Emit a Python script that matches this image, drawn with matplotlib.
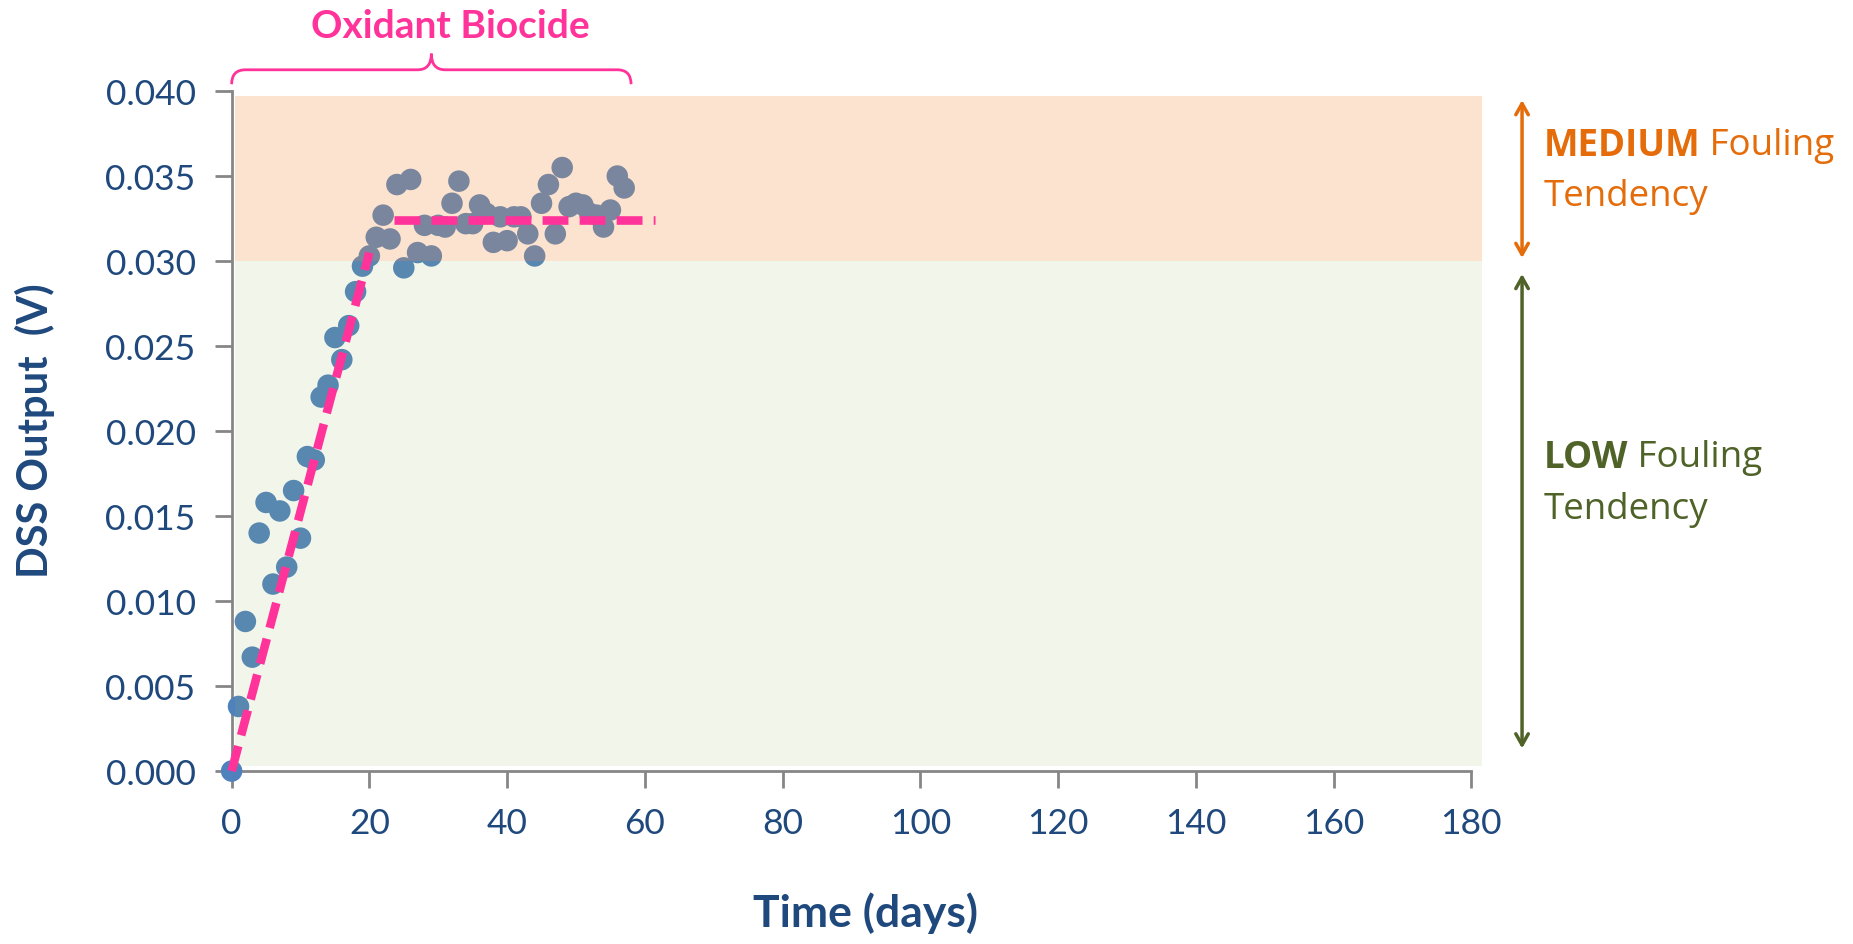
import matplotlib
matplotlib.use('Agg')
from matplotlib import pyplot as plt
from matplotlib.path import Path
from matplotlib.patches import PathPatch

# daily DSS readings during oxidant biocide dosing
days = list(range(0, 58))
dss_output = [0.0000, 0.0038, 0.0088, 0.0067, 0.0140, 0.0158, 0.0110, 0.0153, 0.0120, 0.0165,
              0.0137, 0.0185, 0.0183, 0.0220, 0.0227, 0.0255, 0.0242, 0.0262, 0.0282, 0.0297,
              0.0303, 0.0314, 0.0327, 0.0313, 0.0345, 0.0296, 0.0348, 0.0305, 0.0321, 0.0303,
              0.0321, 0.0320, 0.0334, 0.0347, 0.0322, 0.0322, 0.0333, 0.0328, 0.0311, 0.0326,
              0.0312, 0.0326, 0.0326, 0.0316, 0.0303, 0.0334, 0.0345, 0.0316, 0.0355, 0.0332,
              0.0334, 0.0333, 0.0328, 0.0327, 0.0320, 0.0330, 0.0350, 0.0343]

# trend lines (ramp + plateau)
ramp_x = [0, 20]
ramp_y = [0.0, 0.0305]
plateau_x = [23.6, 61.5]
plateau_y = [0.0324, 0.0324]

# fouling tendency zones
zone_x = [0.5, 181.6]
low_zone = [0.0003, 0.030]
medium_zone = [0.030, 0.0397]

# biocide dosing period
biocide_period = [0, 58]

x_ticks = list(range(0, 181, 20))
y_ticks = [0.000, 0.005, 0.010, 0.015, 0.020, 0.025, 0.030, 0.035, 0.040]

navy = '#1F497D'
pink = '#FF3399'
orange = '#E46C0A'
green = '#4F6228'
font = 'Lato'


def draw_brace(ax, x0, x1, y0, color):
    xm = (x0 + x1) / 2
    y_bar = y0 + 0.00085
    y_tip = y0 + 0.0018
    r = 2.0
    verts = [(x0, y0), (x0, y_bar), (x0 + r, y_bar),
             (xm - r, y_bar), (xm, y_bar), (xm, y_tip),
             (xm, y_bar), (xm + r, y_bar),
             (x1 - r, y_bar), (x1, y_bar), (x1, y0)]
    codes = [Path.MOVETO, Path.CURVE3, Path.CURVE3,
             Path.LINETO, Path.CURVE3, Path.CURVE3,
             Path.CURVE3, Path.CURVE3,
             Path.LINETO, Path.CURVE3, Path.CURVE3]
    patch = PathPatch(Path(verts, codes), facecolor='none', edgecolor=color, lw=2, clip_on=False)
    ax.add_patch(patch)


def mixed_label(fig, x, y, bold_word, rest, color, size):
    renderer = fig.canvas.get_renderer()
    t = fig.text(x, y, bold_word, color=color, fontsize=size, fontweight='bold',
                 family='Open Sans', va='center', ha='left')
    bb = t.get_window_extent(renderer=renderer)
    x2 = bb.x1 / fig.bbox.width
    fig.text(x2, y, ' ' + rest, color=color, fontsize=size, family='Open Sans',
             va='center', ha='left')


def main():
    fig = plt.figure(figsize=(18.53, 9.45), dpi=100)
    ax = fig.add_axes([0.125, 0.183, 0.669, 0.7196])

    ax.scatter(days, dss_output, s=240, color='#4F81BD', edgecolors='none', zorder=2, clip_on=False)

    # zones drawn over the markers with transparency
    ax.fill_between(zone_x, medium_zone[0], medium_zone[1], color='#F79646', alpha=0.26,
                    lw=0, zorder=3, clip_on=False)
    ax.fill_between(zone_x, low_zone[0], low_zone[1], color='#9BBB59', alpha=0.12,
                    lw=0, zorder=3, clip_on=False)

    ax.plot(ramp_x, ramp_y, color=pink, lw=6.2, dashes=(3, 1.3), zorder=4, clip_on=False)
    ax.plot(plateau_x, plateau_y, color=pink, lw=6.2, dashes=(3, 1.3), zorder=4, clip_on=False)

    ax.set_xlim(0, 180)
    ax.set_ylim(0, 0.040)
    ax.set_xticks(x_ticks)
    ax.set_yticks(y_ticks)
    ax.set_xticklabels([str(v) for v in x_ticks])
    ax.set_yticklabels([f'{v:.3f}' for v in y_ticks])

    for side in ['top', 'right']:
        ax.spines[side].set_visible(False)
    for side in ['left', 'bottom']:
        ax.spines[side].set_color('#868686')
        ax.spines[side].set_linewidth(2)
        ax.spines[side].set_zorder(1)
    ax.tick_params(axis='both', direction='out', length=12, width=2, color='#868686',
                   labelcolor=navy, labelsize=25.5)
    ax.tick_params(axis='x', pad=14)
    ax.tick_params(axis='y', pad=14)
    for lbl in ax.get_xticklabels() + ax.get_yticklabels():
        lbl.set_family(font)

    fig.text(0.467, 0.034, 'Time (days)', color=navy, fontsize=32, fontweight='bold',
             family=font, ha='center', va='center')
    fig.text(0.019, 0.544, 'DSS Output  (V)', color=navy, fontsize=30, fontweight='bold',
             family=font, ha='center', va='center', rotation=90)

    # biocide brace and title
    draw_brace(ax, biocide_period[0], biocide_period[1], 0.0404, pink)
    fig.text(0.243, 0.972, 'Oxidant Biocide', color=pink, fontsize=28, fontweight='bold',
             family=font, ha='center', va='center')

    # fouling tendency arrows
    head = '<->,head_length=0.8,head_width=0.45'
    ax.annotate('', xy=(0.8214, 0.896), xytext=(0.8214, 0.723), xycoords='figure fraction',
                arrowprops=dict(arrowstyle=head, color=orange, lw=2.5))
    ax.annotate('', xy=(0.8214, 0.712), xytext=(0.8214, 0.204), xycoords='figure fraction',
                arrowprops=dict(arrowstyle=head, color=green, lw=2.5))

    mixed_label(fig, 0.833, 0.846, 'MEDIUM', 'Fouling', orange, 26.5)
    fig.text(0.833, 0.792, 'Tendency', color=orange, fontsize=26.5, family='Open Sans',
             va='center', ha='left')
    mixed_label(fig, 0.833, 0.515, 'LOW', 'Fouling', green, 26.5)
    fig.text(0.833, 0.460, 'Tendency', color=green, fontsize=26.5, family='Open Sans',
             va='center', ha='left')

    fig.savefig('out.png', dpi=100)


if __name__ == '__main__':
    main()
